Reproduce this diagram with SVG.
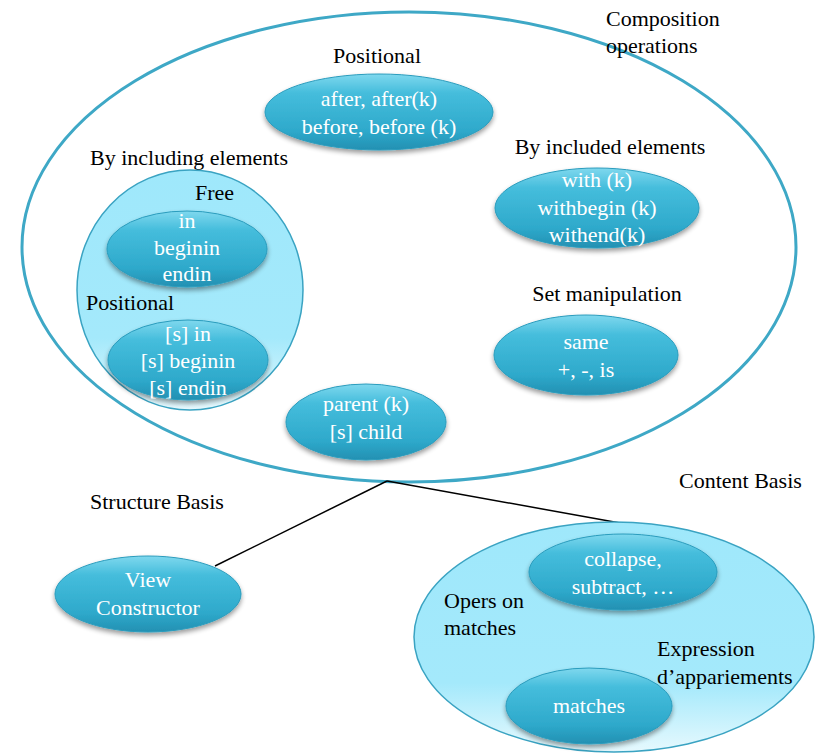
<svg xmlns="http://www.w3.org/2000/svg" width="815" height="754" viewBox="0 0 815 754">
<defs>
<linearGradient id="ng" x1="0" y1="0" x2="0" y2="1">
<stop offset="0" stop-color="#7fd8ee"/>
<stop offset="0.25" stop-color="#45bddc"/>
<stop offset="0.75" stop-color="#2ea9cb"/>
<stop offset="1" stop-color="#2390b2"/>
</linearGradient>
<linearGradient id="lg" x1="0" y1="0" x2="0" y2="1">
<stop offset="0" stop-color="#9fe8fb"/>
<stop offset="0.7" stop-color="#a4e9fb"/>
<stop offset="1" stop-color="#e6f9fe"/>
</linearGradient>
<filter id="sh" x="-20%" y="-20%" width="140%" height="150%">
<feGaussianBlur in="SourceAlpha" stdDeviation="2.5"/>
<feOffset dy="3" result="b"/>
<feComponentTransfer><feFuncA type="linear" slope="0.4"/></feComponentTransfer>
<feMerge><feMergeNode/><feMergeNode in="SourceGraphic"/></feMerge>
</filter>
</defs>
<style>
.node{fill:url(#ng);stroke:#2a9cbd;stroke-width:1;filter:url(#sh)}
.region{fill:url(#lg);stroke:#3aa3c2;stroke-width:1.5}
.lbl{font-family:"Liberation Serif","Times New Roman",serif;font-size:22px;fill:#000}
.nt{font-family:"Liberation Serif","Times New Roman",serif;font-size:22px;fill:#fff;text-anchor:middle}
.edge{stroke:#000;stroke-width:1.5;fill:none}
</style>

<g id="composition-operations">
<ellipse cx="409" cy="247" rx="387" ry="235" fill="none" stroke="#3ea8c6" stroke-width="3"/>
<text class="lbl" x="606" y="26">Composition</text>
<text class="lbl" x="606" y="53">operations</text>
</g>

<g id="connectors">
<line class="edge" x1="387" y1="481" x2="215" y2="566"/>
<line class="edge" x1="387" y1="481" x2="620" y2="523"/>
<line class="edge" x1="624" y1="612" x2="589" y2="669"/>
</g>

<g id="positional">
<text class="lbl" x="377" y="63" text-anchor="middle">Positional</text>
<ellipse class="node" cx="379" cy="112" rx="114" ry="38"/>
<text class="nt" x="379" y="106">after, after(k)</text>
<text class="nt" x="379" y="134">before, before (k)</text>
</g>

<g id="by-including-elements">
<text class="lbl" x="90" y="165">By including elements</text>
<ellipse class="region" cx="190" cy="290" rx="113" ry="120"/>
</g>

<g id="free">
<text class="lbl" x="195" y="200">Free</text>
<ellipse class="node" cx="187" cy="249" rx="80" ry="38"/>
<text class="nt" x="187" y="228">in</text>
<text class="nt" x="187" y="255">beginin</text>
<text class="nt" x="187" y="281">endin</text>
</g>

<g id="positional-in">
<text class="lbl" x="86" y="310">Positional</text>
<ellipse class="node" cx="188" cy="360" rx="80" ry="40"/>
<text class="nt" x="188" y="341">[s] in</text>
<text class="nt" x="188" y="368">[s] beginin</text>
<text class="nt" x="188" y="395">[s] endin</text>
</g>

<g id="by-included-elements">
<text class="lbl" x="610" y="154" text-anchor="middle">By included elements</text>
<ellipse class="node" cx="597" cy="208" rx="102" ry="40"/>
<text class="nt" x="597" y="187">with (k)</text>
<text class="nt" x="597" y="215">withbegin (k)</text>
<text class="nt" x="597" y="242">withend(k)</text>
</g>

<g id="set-manipulation">
<text class="lbl" x="607" y="301" text-anchor="middle">Set manipulation</text>
<ellipse class="node" cx="586" cy="355" rx="92" ry="40"/>
<text class="nt" x="586" y="349">same</text>
<text class="nt" x="586" y="377">+, -, is</text>
</g>

<g id="parent-child">
<ellipse class="node" cx="366" cy="422" rx="80" ry="38"/>
<text class="nt" x="366" y="411">parent (k)</text>
<text class="nt" x="366" y="439">[s] child</text>
</g>

<g id="structure-basis">
<text class="lbl" x="90" y="509">Structure Basis</text>
<ellipse class="node" cx="148" cy="594" rx="93" ry="38"/>
<text class="nt" x="148" y="587">View</text>
<text class="nt" x="148" y="615">Constructor</text>
</g>

<g id="content-basis">
<text class="lbl" x="679" y="488">Content Basis</text>
<ellipse class="region" cx="614" cy="637" rx="200" ry="115"/>
<text class="lbl" x="444" y="608">Opers on</text>
<text class="lbl" x="444" y="635">matches</text>
<text class="lbl" x="657" y="656">Expression</text>
<text class="lbl" x="657" y="684">d’appariements</text>
</g>

<g id="collapse">
<ellipse class="node" cx="623" cy="572" rx="94" ry="38"/>
<text class="nt" x="623" y="566">collapse,</text>
<text class="nt" x="623" y="594">subtract, …</text>
</g>

<g id="matches">
<ellipse class="node" cx="589" cy="706" rx="83" ry="38"/>
<text class="nt" x="589" y="713">matches</text>
</g>
</svg>
